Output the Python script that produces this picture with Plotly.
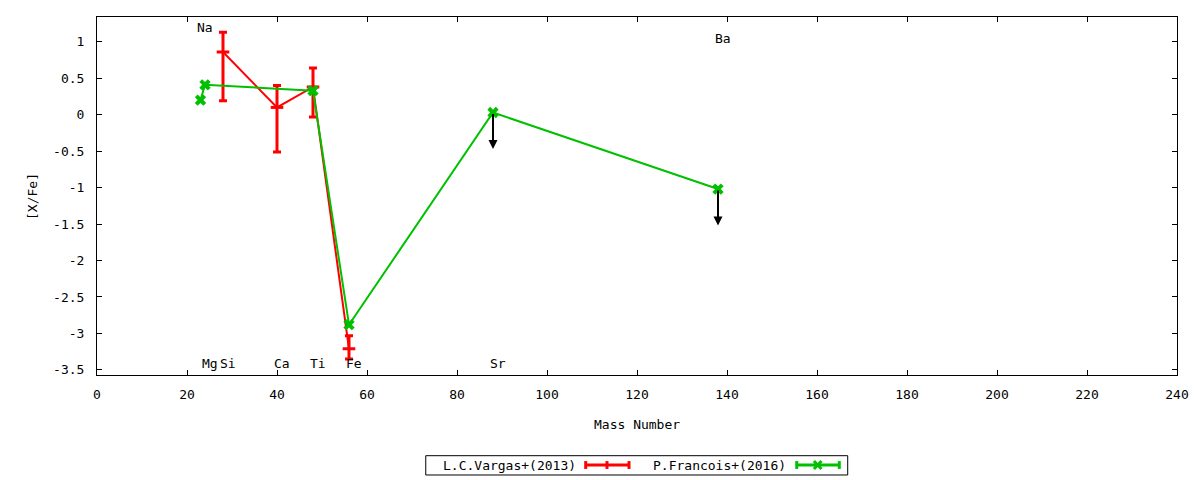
import plotly.graph_objects as go

# ---- data ----
vargas_mass = [28, 40, 48, 56]
vargas_xfe = [0.86, 0.10, 0.38, -3.21]
vargas_err_plus = [0.27, 0.30, 0.26, 0.18]
vargas_err_minus = [0.67, 0.61, 0.41, 0.14]

francois_mass = [23, 24, 48, 56, 88, 138]
francois_xfe = [0.20, 0.41, 0.33, -2.88, 0.03, -1.02]

limit_mass = [88, 138]
limit_xfe = [0.03, -1.02]
limit_len = 0.5

elem_names = ["Na", "Mg", "Si", "Ca", "Ti", "Fe", "Sr", "Ba"]
elem_mass = [23, 24, 28, 40, 48, 56, 88, 138]
elem_label_y = [1.19, -3.41, -3.41, -3.41, -3.41, -3.41, -3.41, 1.04]

x_tick_vals = [0, 20, 40, 60, 80, 100, 120, 140, 160, 180, 200, 220, 240]
y_tick_vals = [1, 0.5, 0, -0.5, -1, -1.5, -2, -2.5, -3, -3.5]
y_tick_text = ["1", "0.5", "0", "-0.5", "-1", "-1.5", "-2", "-2.5", "-3", "-3.5"]

legend_names = ["L.C.Vargas+(2013)", "P.Francois+(2016)"]

RED = "#ff0000"
GREEN = "#00c000"
FONT = "DejaVu Sans Mono"

fig = go.Figure()

fig.add_trace(go.Scatter(
    x=vargas_mass, y=vargas_xfe, mode="lines+markers",
    line=dict(color=RED, width=2),
    marker=dict(symbol="line-ew", size=9, line=dict(color=RED, width=3)),
    error_y=dict(type="data", symmetric=False, array=vargas_err_plus,
                 arrayminus=vargas_err_minus, color=RED, thickness=3, width=4),
    showlegend=False,
))

fig.add_trace(go.Scatter(
    x=francois_mass, y=francois_xfe, mode="lines+markers",
    line=dict(color=GREEN, width=2),
    marker=dict(symbol="x", size=10, color=GREEN),
    showlegend=False,
))

annotations = []
for m, v in zip(limit_mass, limit_xfe):
    annotations.append(dict(
        x=m, y=v - limit_len, ax=m, ay=v, xref="x", yref="y", axref="x", ayref="y",
        text="", showarrow=True, arrowhead=2, arrowsize=0.9, arrowwidth=2,
        arrowcolor="black", standoff=0, startstandoff=0,
    ))

for n, m, yv in zip(elem_names, elem_mass, elem_label_y):
    annotations.append(dict(
        x=m, y=yv, xref="x", yref="y", text=n, showarrow=False,
        xanchor="center", yanchor="middle", xshift=4.5,
        font=dict(family=FONT, size=13, color="black"),
    ))

# axis titles
annotations.append(dict(x=0.5, y=-0.137, xref="paper", yref="paper", text="Mass Number",
                        showarrow=False, xanchor="center", yanchor="middle",
                        font=dict(family=FONT, size=13, color="black")))
annotations.append(dict(x=-0.0602, y=0.5, xref="paper", yref="paper", text="[X/Fe]",
                        showarrow=False, xanchor="center", yanchor="middle", textangle=-90,
                        font=dict(family=FONT, size=13, color="black")))

# manual gnuplot-style legend (text followed by sample)
ly = -0.2514
annotations.append(dict(x=0.3821, y=ly, xref="paper", yref="paper", text=legend_names[0],
                        showarrow=False, xanchor="center", yanchor="middle",
                        font=dict(family=FONT, size=13, color="black")))
annotations.append(dict(x=0.5761, y=ly, xref="paper", yref="paper", text=legend_names[1],
                        showarrow=False, xanchor="center", yanchor="middle",
                        font=dict(family=FONT, size=13, color="black")))

shapes = [
    dict(type="rect", xref="paper", yref="paper", x0=0.3044, x1=0.6951, y0=-0.2793, y1=-0.2254,
         line=dict(color="black", width=1), fillcolor="rgba(0,0,0,0)"),
]
cap = 0.011
for (x0, x1, xm, col, kind) in [(0.4525, 0.4926, 0.4722, RED, "tick"),
                                (0.6479, 0.6873, 0.6673, GREEN, "x")]:
    shapes.append(dict(type="line", xref="paper", yref="paper", x0=x0, x1=x1, y0=ly, y1=ly,
                       line=dict(color=col, width=3)))
    for xc in (x0, x1):
        shapes.append(dict(type="line", xref="paper", yref="paper", x0=xc, x1=xc,
                           y0=ly - cap, y1=ly + cap, line=dict(color=col, width=3)))
    if kind == "tick":
        shapes.append(dict(type="line", xref="paper", yref="paper", x0=xm, x1=xm,
                           y0=ly - cap, y1=ly + cap, line=dict(color=col, width=3)))
    else:
        dx = 0.0035
        shapes.append(dict(type="line", xref="paper", yref="paper", x0=xm - dx, x1=xm + dx,
                           y0=ly - cap, y1=ly + cap, line=dict(color=col, width=3)))
        shapes.append(dict(type="line", xref="paper", yref="paper", x0=xm - dx, x1=xm + dx,
                           y0=ly + cap, y1=ly - cap, line=dict(color=col, width=3)))

# page body has an 8px margin, so the figure is sized/offset to compensate
fig.update_layout(
    width=1192, height=472,
    margin=dict(l=89, r=23, t=9, b=105),
    paper_bgcolor="white", plot_bgcolor="white",
    font=dict(family=FONT, size=13, color="black"),
    annotations=annotations, shapes=shapes,
    showlegend=False,
)
fig.update_xaxes(range=[0, 240], tickvals=x_tick_vals, ticks="inside", ticklen=5,
                 tickcolor="black", showline=True, linecolor="black", linewidth=1,
                 mirror="allticks", showgrid=False, zeroline=False,
                 ticklabelstandoff=7, tickfont=dict(family=FONT, size=13))
fig.update_yaxes(range=[-3.57, 1.34], tickvals=y_tick_vals, ticktext=y_tick_text,
                 ticks="inside", ticklen=5, tickcolor="black", showline=True,
                 linecolor="black", linewidth=1, mirror="allticks", showgrid=False,
                 zeroline=False, ticklabelstandoff=9, tickfont=dict(family=FONT, size=13))

fig.write_html("out.html")
